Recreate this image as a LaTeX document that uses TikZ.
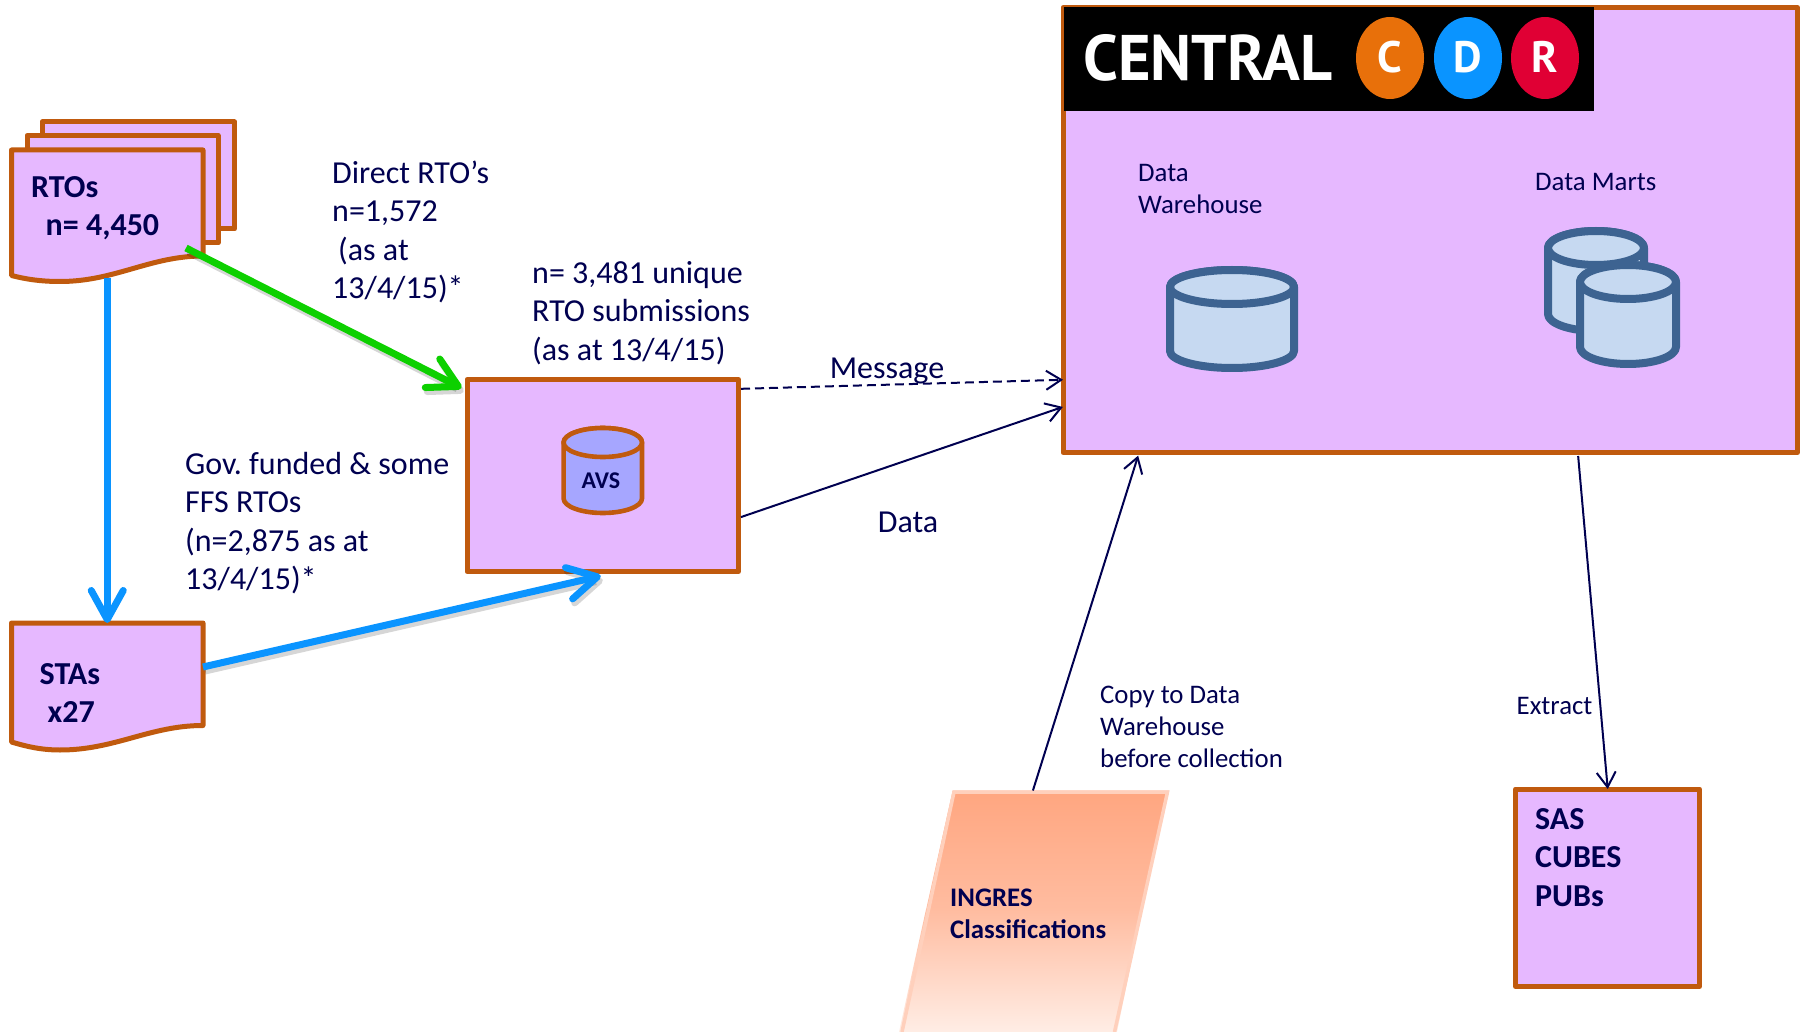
\documentclass[tikz,border=0pt]{standalone}
\usepackage{fontspec}
\setmainfont{Carlito}
\newfontfamily\logofont{PT Sans}
\usetikzlibrary{arrows.meta,calc}
\definecolor{boxedge}{HTML}{C05A0E}
\definecolor{boxfill}{HTML}{E6B8FF}
\definecolor{ink}{HTML}{000050}
\definecolor{thickblue}{HTML}{0A94FF}
\definecolor{thickgreen}{HTML}{0DD000}
\definecolor{dbedge}{HTML}{3D6391}
\definecolor{dbfill}{HTML}{C6D9F1}
\definecolor{avsfill}{HTML}{A6A6FF}
\definecolor{ingA}{HTML}{FFA680}
\definecolor{ingB}{HTML}{FFBCA0}
\definecolor{ingC}{HTML}{FFEDE5}
\definecolor{ingEdge}{HTML}{FFD0BC}
\tikzset{
  boxst/.style={draw=boxedge,fill=boxfill,line width=5pt,line join=round,inner sep=0pt},
  labelbig/.style={text=ink,anchor=north west,inner sep=0pt,align=left,font=\frenchspacing\fontsize{32}{38.3}\selectfont},
  labelbold/.style={labelbig,font=\frenchspacing\fontsize{32}{38.3}\selectfont\bfseries},
  labelsmall/.style={text=ink,anchor=north west,inner sep=0pt,align=left,font=\fontsize{26.8}{32}\selectfont},
  labelsmallbold/.style={labelsmall,font=\fontsize{26.8}{32}\selectfont\bfseries},
  thinarrow/.style={draw=ink,line width=2pt,shorten >=-2.5pt,-{Straight Barb[length=15pt,width=19pt,line width=2pt]}},
  thickarrow/.style={draw=#1,line width=7pt,-{Straight Barb[length=29pt,width=32pt,round,line width=7pt]}},
  thickshadow/.style={draw=black,opacity=.16,line width=7pt,-{Straight Barb[length=29pt,width=32pt,round,line width=7pt]}},
  dbst/.style={draw=dbedge,fill=dbfill,line width=8pt,line join=round},
  avsst/.style={draw=boxedge,fill=avsfill,line width=4.6pt,line join=round},
  logoletter/.style={text=white,inner sep=0pt,font=\logofont\fontsize{44}{44}\selectfont\bfseries},
}
% cylinder: centre x, top, bottom, x radius, y radius, style
\newcommand{\dbcyl}[6]{%
  \draw[#6] ({#1-#4},{#2+#5}) -- ({#1-#4},{#3-#5})
    arc[start angle=180,end angle=0,x radius=#4,y radius=#5]
    -- ({#1+#4},{#2+#5}) arc[start angle=0,end angle=-180,x radius=#4,y radius=#5] -- cycle;
  \draw[#6] (#1,{#2+#5}) ellipse[x radius=#4,y radius=#5];
}
\begin{document}
\begin{tikzpicture}[x=1pt,y=-1pt]
\useasboundingbox (0,0) rectangle (1800,1032);

% ---- RTO stack
\draw[boxst] (42,122) rectangle (234.5,229);
\draw[boxst] (27,135.5) rectangle (218,243);
\draw[boxst] (11.5,150) -- (203,150) -- (203,256)
  .. controls (150,256) and (115,281.5) .. (60,281.5)
  .. controls (40,281.5) and (25,279) .. (11.5,275.5) -- cycle;
\node[inner sep=0pt,outer sep=0pt,minimum width=191.5pt,minimum height=129pt] (rtos) at (107.25,214.5) {};
\node[labelbold] (rtotext) at (31,170.5) {\strut RTOs\\\hspace{14.5pt}n= 4,450};

% ---- STAs
\draw[boxst] (11.5,623) -- (203,623) -- (203,725.5)
  .. controls (150,725.5) and (115,750) .. (60,750)
  .. controls (40,750) and (25,746) .. (11.5,742) -- cycle;
\node[inner sep=0pt,outer sep=0pt,minimum width=191.5pt,minimum height=127pt] (stas) at (107.25,686.5) {};
\node[labelbold] (statext) at (39.5,657.5) {\strut STAs\\\hspace{8pt}x27};

% ---- AVS
\node[boxst,minimum width=271.5pt,minimum height=192pt] (avs) at (602.75,475.5) {};
\dbcyl{602.8}{428}{513}{39.2}{14.5}{avsst}
\node[text=ink,inner sep=0pt,font=\fontsize{24}{28}\selectfont\bfseries] (avstext) at (601,481) {AVS};

% ---- Central CDR
\node[boxst,minimum width=734.5pt,minimum height=445pt] (cdr) at (1430.25,230) {};
\fill[black] (1064,7) rectangle (1594,110.7);
\node[inner sep=0pt,text=white] (central) at (1208,57.5)
  {\resizebox{249pt}{46pt}{\logofont\bfseries CENTRAL}};
\fill[color={rgb,255:red,232;green,112;blue,10}] (1390,58) ellipse[x radius=34,y radius=41];
\fill[color=thickblue] (1468,58) ellipse[x radius=34,y radius=41];
\fill[color={rgb,255:red,224;green,0;blue,52}] (1545,58) ellipse[x radius=34,y radius=41];
\node[logoletter] (lc) at (1390,57) {C};
\node[logoletter] (ld) at (1468,57) {D};
\node[logoletter] (lr) at (1545,57) {R};

\node[labelsmall] (dwlabel) at (1138,158.5) {\strut Data\\Warehouse};
\node[labelsmall] (dmlabel) at (1535,167.5) {\strut Data Marts};
\dbcyl{1232}{270}{368}{62}{17}{dbst}
\dbcyl{1596}{231}{331}{48}{17}{dbst}
\dbcyl{1628}{265}{364}{48}{17}{dbst}

% ---- SAS
\node[boxst,minimum width=184pt,minimum height=197.5pt] (sas) at (1607.5,887.75) {};
\node[labelbold] (sastext) at (1535,802.5) {\strut SAS\\CUBES\\PUBs};

% ---- INGRES
\path[top color=ingA,bottom color=ingB,draw=none] (952.7,790.7) -- (1169,790.7) -- (1142,910) -- (926,910) -- cycle;
\path[top color=ingB,bottom color=ingC,draw=none] (926,909.5) -- (1142,909.5) -- (1117,1032) -- (899,1032) -- cycle;
\draw[ingEdge,line width=3.5pt] (902,1032) -- (954,792) -- (1167.5,792) -- (1114.5,1032);
\node[inner sep=0pt,outer sep=0pt,minimum width=216pt,minimum height=241pt] (ingres) at (1034,911) {};
\node[labelsmallbold] (ingtext) at (950,884) {\strut INGRES\\Classifications};

% ---- plain labels
\node[labelbig] (l1) at (332,156.5) {\strut Direct RTO’s\\n=1,572\\\hspace{6pt}(as at\\13/4/15)*};
\node[labelbig] (l2) at (532,256.5) {\strut n= 3,481 unique\\RTO submissions\\(as at 13/4/15)};
\node[labelbig] (l3) at (185,447.5) {\strut Gov. funded \& some\\FFS RTOs\\(n=2,875 as at\\13/4/15)*};
\node[labelbig,anchor=center] (lmsg) at (887,371) {Message};
\node[labelbig,anchor=center] (ldata) at (908,522) {Data};
\node[labelsmall] (l4) at (1100,680.5) {\strut Copy to Data\\Warehouse\\before collection};
\node[labelsmall] (l5) at (1516.5,692) {\strut Extract};

% ---- thick connectors
\draw[thickshadow] ([shift={(2,4)}]$(rtos.north west)+(174.5,98)$) -- ([shift={(2,4)}]$(avs.north west)+(-3,11)$);
\draw[thickarrow=thickgreen] ($(rtos.north west)+(174.5,98)$) -- ($(avs.north west)+(-3,11)$);
\draw[thickarrow=thickblue] ($(rtos.south)+(0,-1)$) -- (stas.north);
\draw[thickshadow] ([shift={(2,4)}]$(stas.north east)+(0,44)$) -- ([shift={(2,4)}]$(avs.south)+(-2,2)$);
\draw[thickarrow=thickblue] ($(stas.north east)+(0,44)$) -- ($(avs.south)+(-2,2)$);

% ---- thin connectors
\draw[thinarrow,dashed,dash pattern=on 9pt off 5pt] ($(avs.north east)!.06!(avs.south east)$) -- ($(cdr.north west)!.833!(cdr.south west)$);
\draw[thinarrow] ($(avs.north east)!.711!(avs.south east)$) -- ($(cdr.north west)!.895!(cdr.south west)$);
\draw[thinarrow] ($(ingres.north west)!.495!(ingres.north east)$) -- ($(cdr.south west)!.104!(cdr.south east)+(0,3)$);
\draw[thinarrow] ($(cdr.south west)!.7!(cdr.south east)+(0,1)$) -- ($(sas.north)$);
\end{tikzpicture}
\end{document}
